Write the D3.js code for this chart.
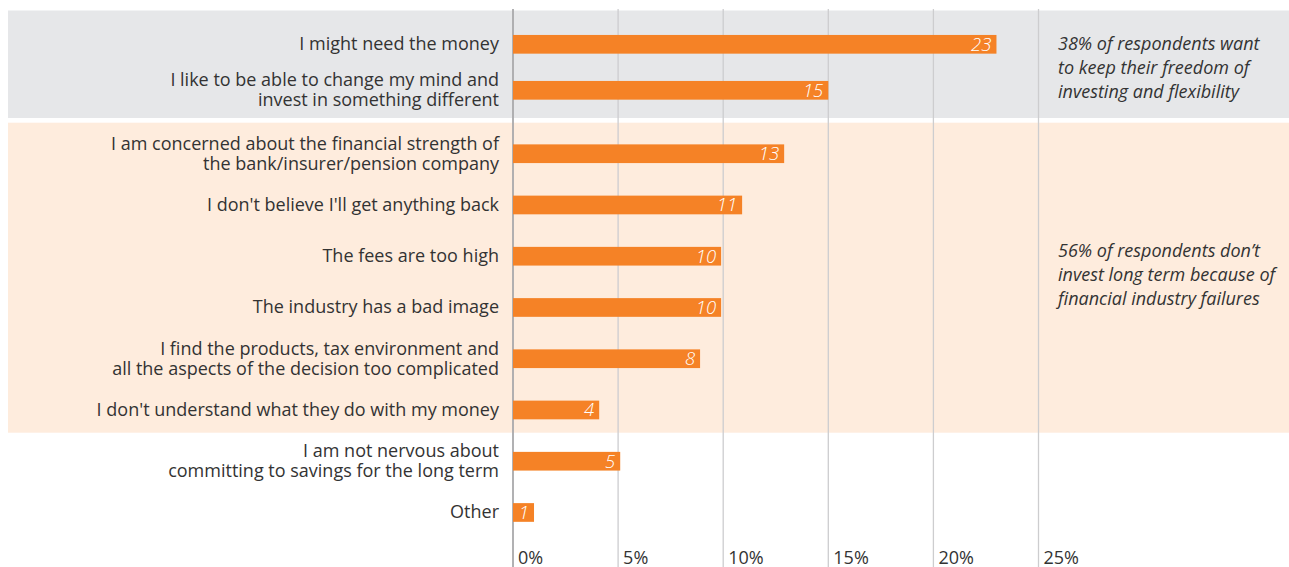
<!DOCTYPE html>
<html>
<head>
<meta charset="utf-8">
<script src="https://cdn.jsdelivr.net/npm/d3@7"></script>
<style>
  html, body { margin: 0; padding: 0; background: #ffffff; }
  svg { display: block; font-family: "Open Sans", "Noto Sans", sans-serif; }
</style>
</head>
<body>
<svg id="chart" width="1289" height="567"></svg>
<script>
// ---- data ----
const categories = [
  "I might need the money",
  "I like to be able to change my mind and\ninvest in something different",
  "I am concerned about the financial strength of\nthe bank/insurer/pension company",
  "I don't believe I'll get anything back",
  "The fees are too high",
  "The industry has a bad image",
  "I find the products, tax environment and\nall the aspects of the decision too complicated",
  "I don't understand what they do with my money",
  "I am not nervous about\ncommitting to savings for the long term",
  "Other"
];
// bar lengths as drawn (percent of respondents)
const values = [23, 15, 12.9, 10.9, 9.9, 9.9, 8.9, 4.1, 5.1, 1.0];
// printed value labels
const valueLabels = ["23", "15", "13", "11", "10", "10", "8", "4", "5", "1"];
const groupFreedom = categories.slice(0, 2);
const groupFailures = categories.slice(2, 8);
const groupOther = categories.slice(8);
const annotations = [
  "38% of respondents want\nto keep their freedom of\ninvesting and flexibility",
  "56% of respondents don\u2019t\ninvest long term because of\nfinancial industry failures"
];
const tickValues = [0, 5, 10, 15, 20, 25];
const tickLabels = ["0%", "5%", "10%", "15%", "20%", "25%"];

// ---- layout ----
const W = 1289, H = 567;
const svg = d3.select("#chart");
const textColor = "#333333";
const barColor = "#f58226";

const x = d3.scaleLinear().domain([0, 25]).range([513, 1038.5]);
const yTop = d3.scalePoint().domain(groupFreedom).range([21.3, 113.3]).padding(0.5);
const yRest = d3.scalePoint().domain(groupFailures.concat(groupOther)).range([128.1, 538.1]).padding(0.5);
const yPos = c => groupFreedom.includes(c) ? yTop(c) : yRest(c);
const barH = 18.7;

// background bands
const bands = [
  { y0: 10.5, y1: 118, color: "#e6e7e9" },
  { y0: 122.7, y1: 432.7, color: "#feecdd" }
];
svg.selectAll("rect.band").data(bands).enter().append("rect")
  .attr("class", "band")
  .attr("x", 8).attr("width", W - 8)
  .attr("y", d => d.y0).attr("height", d => d.y1 - d.y0)
  .attr("fill", d => d.color);

// gridlines
svg.append("g").selectAll("line").data(tickValues).enter().append("line")
  .attr("x1", d => x(d)).attr("x2", d => x(d))
  .attr("y1", 9).attr("y2", H)
  .attr("stroke", d => d === 0 ? "#a9a9ab" : "#cdcdcf")
  .attr("stroke-width", d => d === 0 ? 1.8 : 1.3);

// tick labels
svg.append("g").selectAll("text").data(tickValues).enter().append("text")
  .attr("x", d => x(d) + 5).attr("y", 564)
  .attr("fill", textColor)
  .attr("font-size", 18)
  .text((d, i) => tickLabels[i]);

// bars
svg.append("g").selectAll("rect").data(categories).enter().append("rect")
  .attr("x", x(0)).attr("y", c => yPos(c) - barH / 2)
  .attr("width", (c, i) => x(values[i]) - x(0))
  .attr("height", barH)
  .attr("fill", barColor);

// value labels
svg.append("g").selectAll("text").data(categories).enter().append("text")
  .attr("x", (c, i) => x(values[i]) - 5)
  .attr("y", c => yPos(c) + 6.5)
  .attr("text-anchor", "end")
  .attr("fill", "#ffffff")
  .attr("font-size", 18.5)
  .attr("font-style", "italic")
  .attr("font-weight", 300)
  .text((c, i) => valueLabels[i]);

// category labels
const lineH = 20;
const catG = svg.append("g");
categories.forEach(c => {
  const lines = c.split("\n");
  const t = catG.append("text")
    .attr("text-anchor", "end")
    .attr("fill", textColor)
    .attr("font-size", 18);
  const cy = yPos(c);
  lines.forEach((ln, j) => {
    t.append("tspan")
      .attr("x", 499)
      .attr("y", cy + 6 + (j - (lines.length - 1) / 2) * lineH)
      .text(ln);
  });
});

// annotations
const annoCenters = [68, 275];
const annoG = svg.append("g");
annotations.forEach((a, i) => {
  const lines = a.split("\n");
  const t = annoG.append("text")
    .attr("fill", textColor)
    .attr("font-size", 18)
    .attr("font-style", "italic");
  lines.forEach((ln, j) => {
    t.append("tspan")
      .attr("x", 1058)
      .attr("y", annoCenters[i] + 6 + (j - 1) * 24)
      .text(ln);
  });
});
</script>
</body>
</html>
